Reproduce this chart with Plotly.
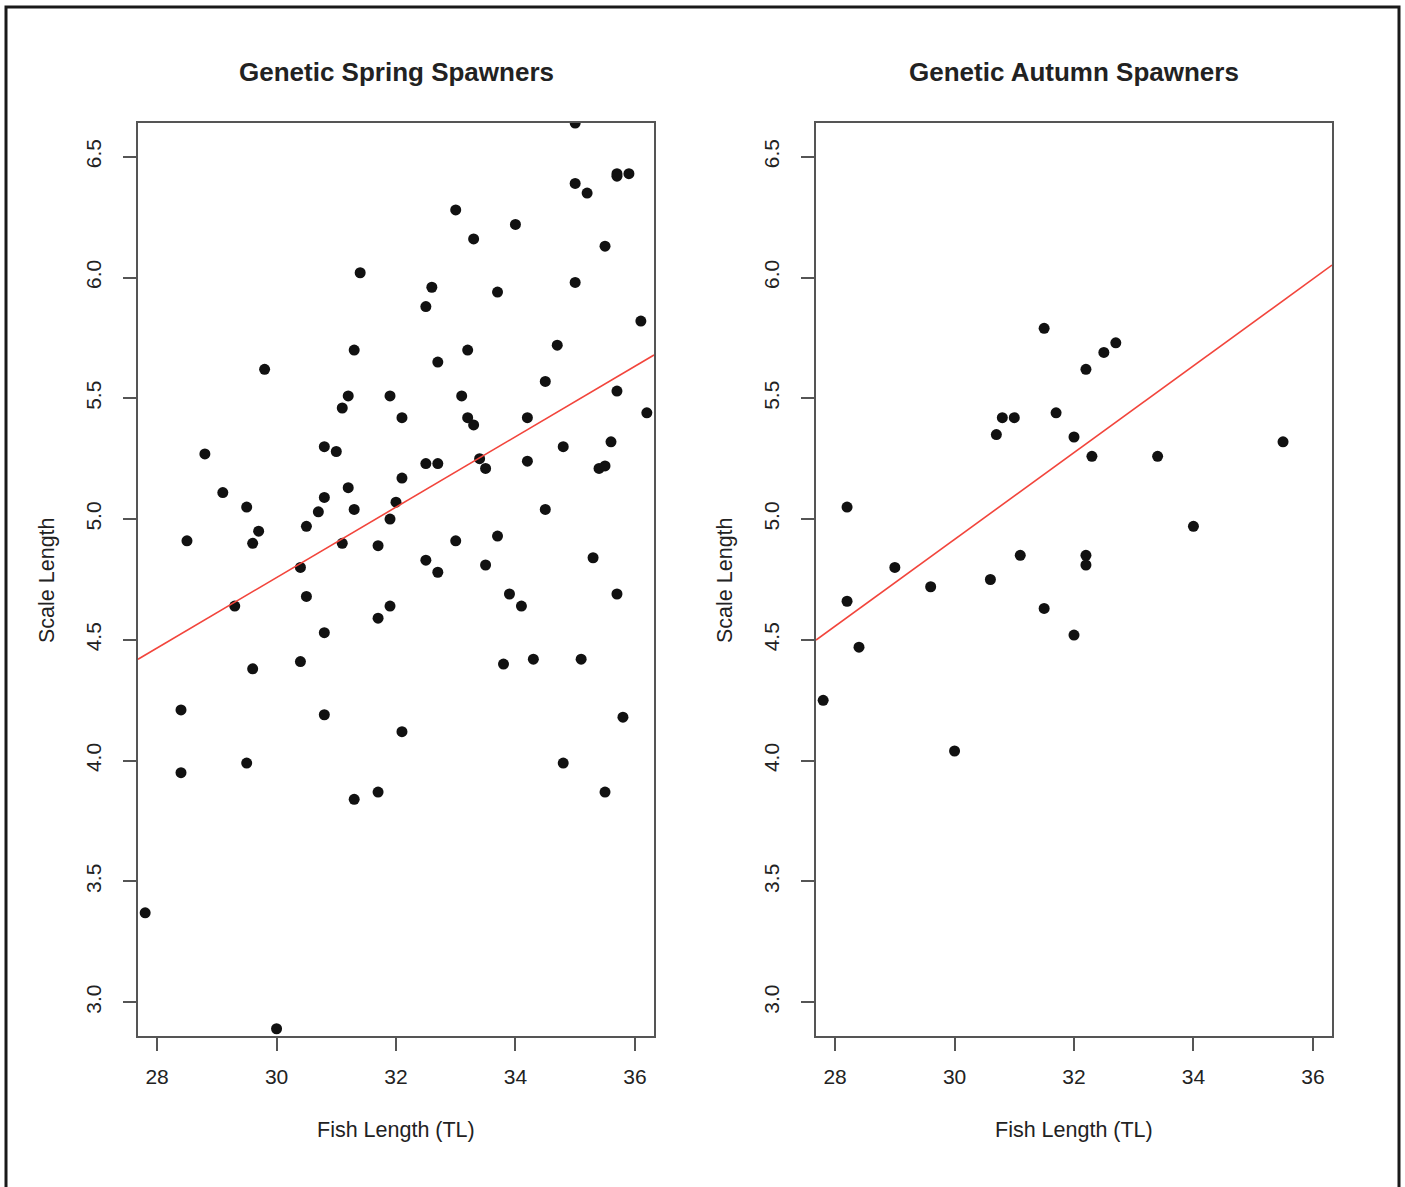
import plotly.graph_objects as go

# ---------------- data ----------------
spring_length = [35.0, 35.7, 35.7, 35.9, 35.0, 35.2, 33.0, 34.0, 33.3, 35.5,
                 35.0, 32.6, 32.5, 33.7, 36.1, 33.2, 34.7, 32.7, 34.5, 35.7,
                 33.1, 31.9, 32.1, 33.2, 33.3, 34.2, 36.2, 31.4, 31.3, 29.8,
                 31.2, 31.1, 28.8, 30.8, 31.0, 29.1, 29.5, 30.8, 31.2, 30.7,
                 31.3, 30.5, 29.7, 29.6, 28.5, 32.0, 31.9, 31.1, 31.7, 30.4,
                 30.5, 29.3, 31.9, 31.7, 30.8, 30.4, 29.6, 28.4, 30.8, 32.1,
                 32.1, 35.6, 34.8, 32.5, 32.7, 33.4, 33.5, 34.2, 35.4, 35.5,
                 34.5, 33.0, 33.7, 32.5, 32.7, 33.5, 35.3, 33.9, 34.1, 35.7,
                 33.8, 34.3, 35.1, 35.8, 28.4, 29.5, 31.3, 31.7, 34.8, 35.5,
                 27.8, 30.0]
spring_scale = [6.64, 6.43, 6.42, 6.43, 6.39, 6.35, 6.28, 6.22, 6.16, 6.13,
                5.98, 5.96, 5.88, 5.94, 5.82, 5.70, 5.72, 5.65, 5.57, 5.53,
                5.51, 5.51, 5.42, 5.42, 5.39, 5.42, 5.44, 6.02, 5.70, 5.62,
                5.51, 5.46, 5.27, 5.30, 5.28, 5.11, 5.05, 5.09, 5.13, 5.03,
                5.04, 4.97, 4.95, 4.90, 4.91, 5.07, 5.00, 4.90, 4.89, 4.80,
                4.68, 4.64, 4.64, 4.59, 4.53, 4.41, 4.38, 4.21, 4.19, 4.12,
                5.17, 5.32, 5.30, 5.23, 5.23, 5.25, 5.21, 5.24, 5.21, 5.22,
                5.04, 4.91, 4.93, 4.83, 4.78, 4.81, 4.84, 4.69, 4.64, 4.69,
                4.40, 4.42, 4.42, 4.18, 3.95, 3.99, 3.84, 3.87, 3.99, 3.87,
                3.37, 2.89]

autumn_length = [31.5, 32.7, 32.5, 32.2, 31.7, 30.8, 31.0, 30.7, 32.0, 32.3,
                 33.4, 35.5, 28.2, 34.0, 31.1, 32.2, 32.2, 29.0, 30.6, 29.6,
                 28.2, 31.5, 32.0, 28.4, 27.8, 30.0]
autumn_scale = [5.79, 5.73, 5.69, 5.62, 5.44, 5.42, 5.42, 5.35, 5.34, 5.26,
                5.26, 5.32, 5.05, 4.97, 4.85, 4.85, 4.81, 4.80, 4.75, 4.72,
                4.66, 4.63, 4.52, 4.47, 4.25, 4.04]

# fitted lines: (intercept, slope)
spring_fit = (0.384, 0.1458)
autumn_fit = (-0.475, 0.1797)

x_ticks = [28, 30, 32, 34, 36]
y_ticks = [3.0, 3.5, 4.0, 4.5, 5.0, 5.5, 6.0, 6.5]
x_range = [27.68, 36.32]
y_range = [2.86, 6.64]

titles = ["Genetic Spring Spawners", "Genetic Autumn Spawners"]
x_title = "Fish Length (TL)"
y_title = "Scale Length"

# ---------------- layout geometry ----------------
W, H = 1405, 1187
px = lambda v: v / W
py = lambda v: 1 - v / H

FONT = "Liberation Sans, Arial, Helvetica, sans-serif"
AXC = "#555555"
TXT = "#222222"

fig = go.Figure()

panels = [
    ("x", "y", spring_length, spring_scale, spring_fit),
    ("x2", "y2", autumn_length, autumn_scale, autumn_fit),
]
for xa, ya, xs, ys, (b0, b1) in panels:
    fig.add_trace(go.Scatter(
        x=xs, y=ys, mode="markers", xaxis=xa, yaxis=ya,
        marker=dict(color="#111111", size=11, line=dict(width=0)),
        cliponaxis=True, showlegend=False, hoverinfo="skip"))
    fig.add_trace(go.Scatter(
        x=x_range, y=[b0 + b1 * x_range[0], b0 + b1 * x_range[1]],
        mode="lines", xaxis=xa, yaxis=ya,
        line=dict(color="#f2453c", width=1.6),
        cliponaxis=True, showlegend=False, hoverinfo="skip"))

common_x = dict(range=x_range, tickvals=x_ticks, ticktext=[str(v) for v in x_ticks],
                showline=True, mirror=True, linecolor=AXC, linewidth=2,
                ticks="outside", ticklen=13, tickwidth=1.5, tickcolor=AXC,
                showgrid=False, zeroline=False,
                tickfont=dict(family=FONT, size=21, color=TXT),
                ticklabelstandoff=8, fixedrange=True)
common_y = dict(range=y_range, tickvals=y_ticks, ticktext=[f"{v:.1f}" for v in y_ticks],
                showline=True, mirror=True, linecolor=AXC, linewidth=2,
                ticks="outside", ticklen=13, tickwidth=1.5, tickcolor=AXC,
                showgrid=False, zeroline=False, tickangle=-90,
                tickfont=dict(family=FONT, size=21, color=TXT),
                ticklabelstandoff=14, fixedrange=True)

ydom = [py(1036), py(123)]
fig.update_layout(
    width=W, height=H, margin=dict(l=0, r=0, t=0, b=0),
    paper_bgcolor="white", plot_bgcolor="white",
    xaxis=dict(domain=[px(138), px(654)], anchor="y", **common_x),
    yaxis=dict(domain=ydom, anchor="x", **common_y),
    xaxis2=dict(domain=[px(816), px(1332)], anchor="y2", **common_x),
    yaxis2=dict(domain=ydom, anchor="x2", **common_y),
)

annotations = []
for cx, ycx, t in [(396, 47, titles[0]), (1074, 725, titles[1])]:
    annotations.append(dict(x=px(cx), y=py(72), xref="paper", yref="paper",
                            text=f"<b>{t}</b>", showarrow=False,
                            xanchor="center", yanchor="middle",
                            font=dict(family=FONT, size=26, color=TXT)))
    annotations.append(dict(x=px(cx), y=py(1130), xref="paper", yref="paper",
                            text=x_title, showarrow=False,
                            xanchor="center", yanchor="middle",
                            font=dict(family=FONT, size=21.5, color=TXT)))
    annotations.append(dict(x=px(ycx), y=py(580), xref="paper", yref="paper",
                            text=y_title, showarrow=False, textangle=-90,
                            xanchor="center", yanchor="middle",
                            font=dict(family=FONT, size=21.5, color=TXT)))
fig.update_layout(annotations=annotations)

# outer frame
fig.add_shape(type="rect", xref="paper", yref="paper",
              x0=px(6), x1=px(1399), y0=-0.05, y1=py(7),
              line=dict(color="#1a1a1a", width=3), fillcolor="rgba(0,0,0,0)")

fig.write_html("out.html")
